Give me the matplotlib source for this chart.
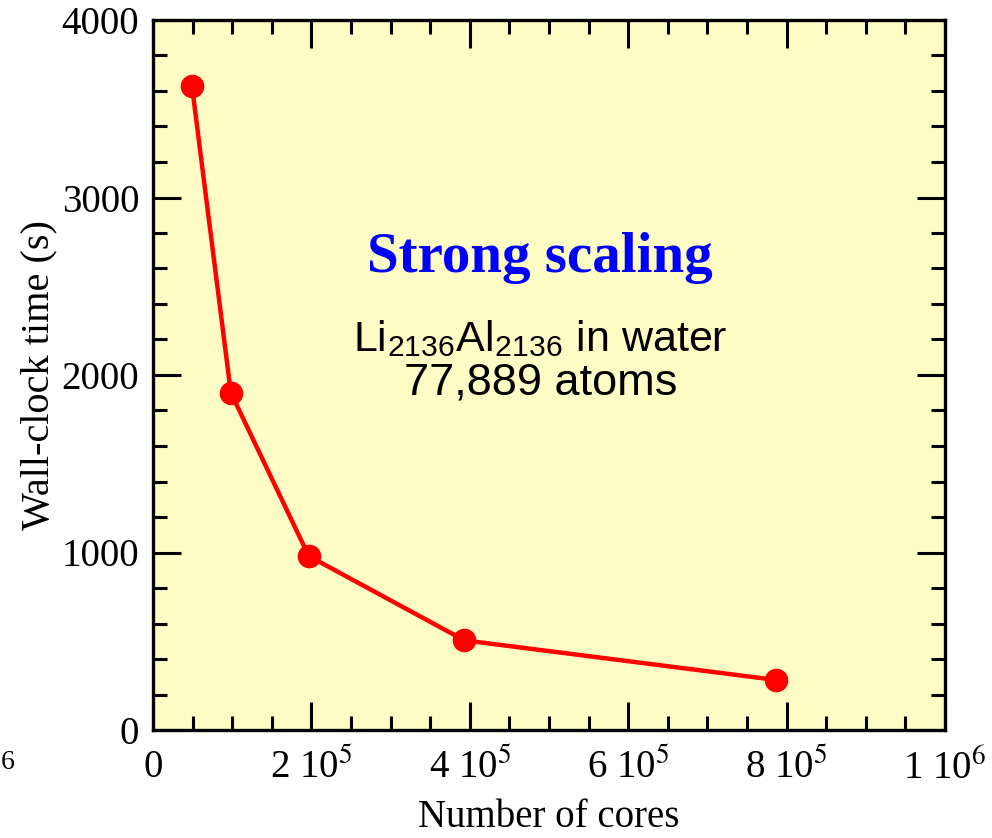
import matplotlib

matplotlib.use("Agg")
import matplotlib.pyplot as plt
from matplotlib.ticker import MultipleLocator

# strong scaling data: cores vs wall-clock seconds
cores = [49152, 98304, 196608, 393216, 786432]
wall_time = [3630, 1900, 980, 505, 282]

xticks = [0, 2e5, 4e5, 6e5, 8e5, 1e6]
xtick_labels = ["0", r"2 10$^{5}$", r"4 10$^{5}$", r"6 10$^{5}$", r"8 10$^{5}$", r"1 10$^{6}$"]
yticks = [0, 1000, 2000, 3000, 4000]

plt.rcParams["font.family"] = ["Liberation Serif", "DejaVu Serif"]
plt.rcParams["mathtext.fontset"] = "stix"

fig = plt.figure(figsize=(9.92, 8.38), dpi=100)
ax = fig.add_axes([153 / 992, 108 / 838, 792 / 992, 710 / 838])
ax.set_facecolor("#fcfcc4")

ax.plot(cores, wall_time, color="#ff0000", lw=3.2, marker="o", ms=16, zorder=3)

ax.set_xlim(0, 1e6)
ax.set_ylim(0, 4000)
ax.set_xticks(xticks)
ax.set_xticklabels(xtick_labels)
ax.set_yticks(yticks)
ax.xaxis.set_minor_locator(MultipleLocator(5e4))
ax.yaxis.set_minor_locator(MultipleLocator(200))
ax.tick_params(which="both", direction="in", top=True, right=True, width=2.2,
               labelsize=28)
ax.tick_params(axis="x", which="major", pad=14)
ax.tick_params(axis="y", which="major", pad=10)
ax.tick_params(which="major", length=20)
ax.tick_params(which="minor", length=10)
for sp in ax.spines.values():
    sp.set_linewidth(2.4)

ax.set_xlabel("Number of cores", fontsize=28, labelpad=8)
ax.set_ylabel("Wall-clock time (s)", fontsize=29, labelpad=3)

sans = ["Liberation Sans", "DejaVu Sans"]
ax.text(4.89e5, 2660, "Strong scaling", color="#0000ff", fontsize=41,
        fontweight="bold", ha="center", va="center")
ax.text(4.89e5, 2200, r"Li$_{\mathregular{2136}}$Al$_{\mathregular{2136}}$ in water",
        fontsize=31, ha="center", va="center", family=sans)
ax.text(4.89e5, 1955, "77,889 atoms", fontsize=32.5, ha="center", va="center",
        family=sans)

# clipped leftover label at the left edge
fig.text(1 / 992, 1 - 762 / 838, "6", fontsize=20, ha="left", va="center")

fig.savefig("out.png", dpi=100)
